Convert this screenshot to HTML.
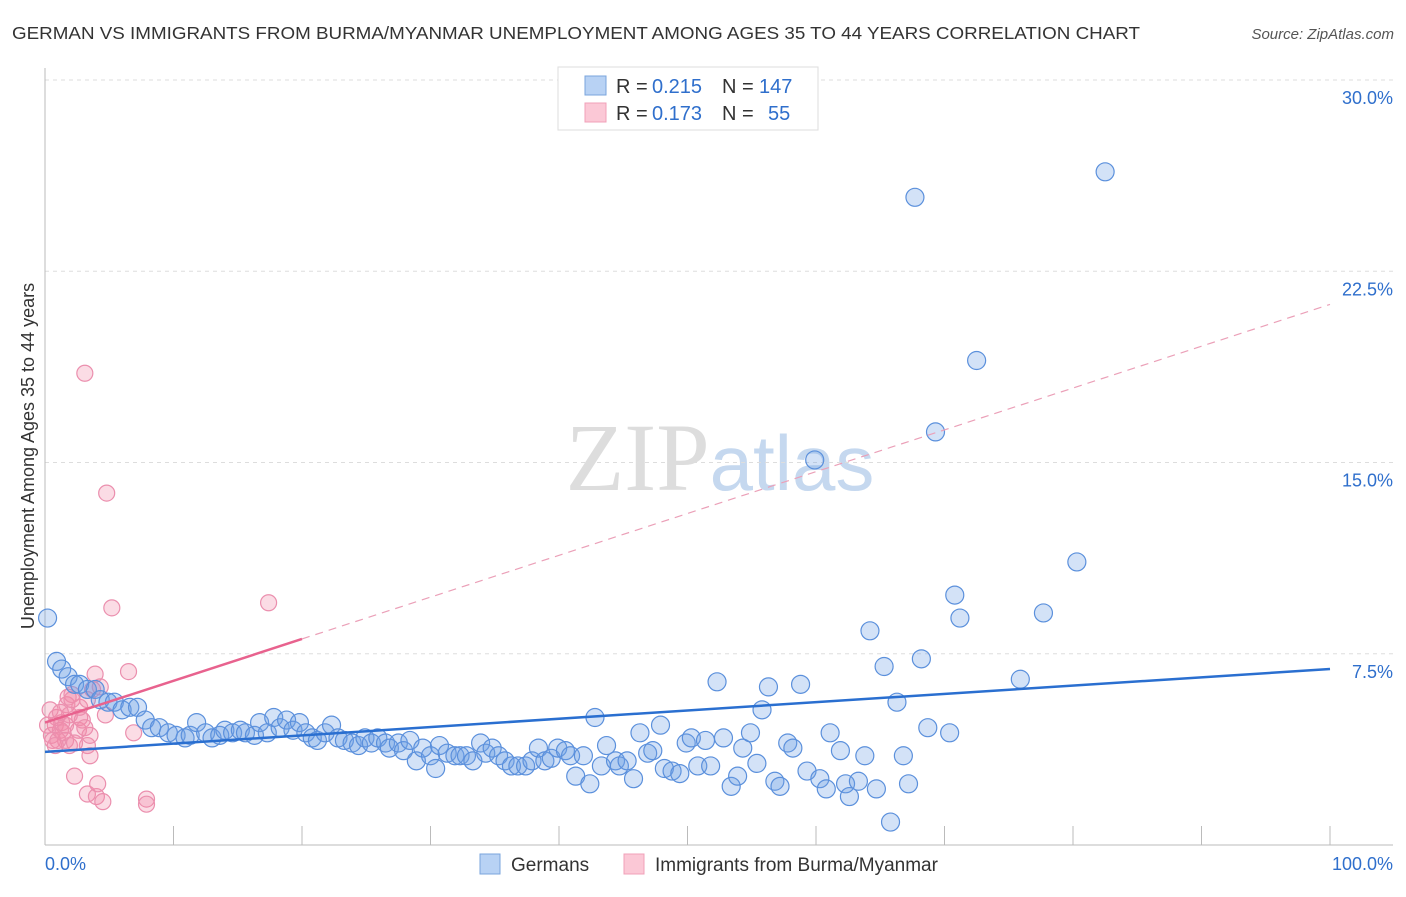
<!DOCTYPE html>
<html><head><meta charset="utf-8"><style>
body{margin:0;background:#fff;font-family:"Liberation Sans",sans-serif}
</style></head><body>
<svg id="c" width="1406" height="892" xmlns="http://www.w3.org/2000/svg" font-family="Liberation Sans, sans-serif">
<text x="12" y="39" font-size="17.5" fill="#333" textLength="1128" lengthAdjust="spacingAndGlyphs">GERMAN VS IMMIGRANTS FROM BURMA/MYANMAR UNEMPLOYMENT AMONG AGES 35 TO 44 YEARS CORRELATION CHART</text>
<text x="1394" y="39" font-size="15" fill="#555" font-style="italic" text-anchor="end">Source: ZipAtlas.com</text>
<text x="720" y="490" font-size="96" text-anchor="middle" fill="#ddd" font-family="Liberation Serif, serif">ZIP<tspan fill="#c5d8ef" font-family="Liberation Sans, sans-serif" font-size="78">atlas</tspan></text>
<g id="grid"></g><g id="axes"></g><g id="pts"></g><g id="lines"></g>
<text transform="translate(34,456) rotate(-90)" font-size="18" fill="#333" text-anchor="middle">Unemployment Among Ages 35 to 44 years</text>
<g>
<rect x="558" y="67" width="260" height="63" fill="#fff" stroke="#ddd"/>
<rect x="585" y="76" width="21" height="19" fill="#b8d2f4" stroke="#7aa4dc"/>
<rect x="585" y="103" width="21" height="19" fill="#fbc8d6" stroke="#f0a0b8"/>
<text x="616" y="93" font-size="20" fill="#333">R =</text>
<text x="652" y="93" font-size="20" fill="#2f6fcc">0.215</text>
<text x="722" y="93" font-size="20" fill="#333">N =</text>
<text x="759" y="93" font-size="20" fill="#2f6fcc">147</text>
<text x="616" y="120" font-size="20" fill="#333">R =</text>
<text x="652" y="120" font-size="20" fill="#2f6fcc">0.173</text>
<text x="722" y="120" font-size="20" fill="#333">N =</text>
<text x="768" y="120" font-size="20" fill="#2f6fcc">55</text>
</g>
<g>
<rect x="480" y="854" width="20" height="20" fill="#b8d2f4" stroke="#7aa4dc"/>
<text x="511" y="871" font-size="19" fill="#333">Germans</text>
<rect x="624" y="854" width="20" height="20" fill="#fbc8d6" stroke="#f0a0b8"/>
<text x="655" y="871" font-size="19" fill="#333">Immigrants from Burma/Myanmar</text>
</g>
</svg>
<script>
const blueX=[0.2,0.9,1.3,1.8,2.3,2.7,3.3,3.9,4.3,4.9,5.4,6.0,6.6,7.2,7.8,8.3,8.9,9.6,10.2,10.9,11.3,11.8,12.5,13.0,13.6,14.0,14.6,15.2,15.6,16.3,16.7,17.3,17.8,18.3,18.8,19.3,19.8,20.3,20.8,21.2,21.8,22.3,22.8,23.3,23.9,24.4,24.9,25.4,25.9,26.5,26.8,27.5,27.9,28.4,28.9,29.4,30.0,30.4,30.7,31.3,31.9,32.3,32.8,33.3,33.9,34.3,34.8,35.3,35.8,36.3,36.8,37.4,37.9,38.4,38.9,39.4,39.9,40.5,40.9,41.3,41.9,42.4,42.8,43.3,43.7,44.4,44.7,45.3,45.8,46.3,46.9,47.3,47.9,48.2,48.8,49.4,49.9,50.3,50.8,51.4,51.8,52.3,52.8,53.4,53.9,54.3,54.9,55.4,55.8,56.3,56.8,57.2,57.8,58.2,58.8,59.3,59.9,60.3,60.8,61.1,61.9,62.3,62.6,63.3,63.8,64.2,64.7,65.3,65.8,66.3,66.8,67.2,67.7,68.2,68.7,69.3,70.4,70.8,71.2,72.5,75.9,77.7,80.3,82.5];
const blueY=[8.9,7.2,6.9,6.6,6.3,6.3,6.1,6.1,5.7,5.6,5.6,5.3,5.4,5.4,4.9,4.6,4.6,4.4,4.3,4.2,4.3,4.8,4.4,4.2,4.3,4.5,4.4,4.5,4.4,4.3,4.8,4.4,5.0,4.6,4.9,4.5,4.8,4.4,4.2,4.1,4.4,4.7,4.2,4.1,4.0,3.9,4.2,4.0,4.2,4.0,3.8,4.0,3.7,4.1,3.3,3.8,3.5,3.0,3.9,3.6,3.5,3.5,3.5,3.3,4.0,3.6,3.8,3.5,3.3,3.1,3.1,3.1,3.3,3.8,3.3,3.4,3.8,3.7,3.5,2.7,3.5,2.4,5.0,3.1,3.9,3.3,3.1,3.3,2.6,4.4,3.6,3.7,4.7,3.0,2.9,2.8,4.0,4.2,3.1,4.1,3.1,6.4,4.2,2.3,2.7,3.8,4.4,3.2,5.3,6.2,2.5,2.3,4.0,3.8,6.3,2.9,15.1,2.6,2.2,4.4,3.7,2.4,1.9,2.5,3.5,8.4,2.2,7.0,0.9,5.6,3.5,2.4,25.4,7.3,4.6,16.2,4.4,9.8,8.9,19.0,6.5,9.1,11.1,26.4];
const pinkX=[0.4,0.5,0.8,0.9,1.2,1.3,1.6,1.7,1.8,1.9,2.1,2.3,2.6,2.7,2.9,3.1,3.3,3.3,3.5,3.7,3.9,4.0,4.1,4.3,4.5,4.7,4.8,5.2,6.5,6.9,7.9,7.9,17.4,0.2,0.6,1.0,1.4,1.6,1.9,2.3,2.7,3.1,3.5,1.2,2.1,0.8,3.3];
const pinkY=[5.3,4.3,4.7,5.0,4.5,4.8,4.1,5.5,5.8,3.9,5.9,2.7,4.5,5.0,4.9,18.5,2.0,3.9,4.3,6.1,6.7,1.9,2.4,6.2,1.7,5.1,13.8,9.3,6.8,4.4,1.8,1.6,9.5,4.7,4.1,4.1,4.4,4.7,5.1,4.0,5.4,4.6,3.5,5.2,5.7,3.9,5.7];
const yTicks=[7.5,15,22.5,30];
const yTickLabels=["7.5%","15.0%","22.5%","30.0%"];
const xTicks=[0,10,20,30,40,50,60,70,80,90,100];
const blueTrend=[3.65,6.9];
const pinkTrend=[4.8,21.2];
const pinkSolidEnd=20;
const NS="http://www.w3.org/2000/svg";
const X=v=>45+v*12.85, Y=v=>845-v*25.5;
function mk(p,t,a){const e=document.createElementNS(NS,t);for(const k in a)e.setAttribute(k,a[k]);p.appendChild(e);return e;}
const grid=document.getElementById('grid'),axes=document.getElementById('axes'),pts=document.getElementById('pts'),lines=document.getElementById('lines');
yTicks.forEach((t,i)=>{
 const l=mk(grid,'line',{x1:45,x2:1393,y1:Y(t),y2:Y(t),stroke:'#ddd','stroke-dasharray':'4,4'});
 
 
 const tx=mk(axes,'text',{x:1393,y:Y(t)+24,'font-size':18,fill:'#2f6fcc','text-anchor':'end'});tx.textContent=yTickLabels[i];
 
 
});
const ax=mk(axes,'line',{x1:45,x2:1393,y1:845,y2:845,stroke:'#bbb'});


const ay=mk(axes,'line',{x1:45,x2:45,y1:68,y2:845,stroke:'#bbb'});


xTicks.forEach(t=>{const l=mk(axes,'line',{x1:X(t),x2:X(t),y1:826,y2:845,stroke:'#bbb'});
 
 });
const x0=mk(axes,'text',{x:45,y:870,'font-size':18,fill:'#2f6fcc'});x0.textContent='0.0%';


const x1=mk(axes,'text',{x:1393,y:870,'font-size':18,fill:'#2f6fcc','text-anchor':'end'});x1.textContent='100.0%';


pinkX.forEach((v,i)=>{const c=mk(pts,'circle',{cx:X(v),cy:Y(pinkY[i]),r:8,fill:'rgba(242,140,170,0.3)',stroke:'#eb8fae','stroke-width':1.2});
 
 });
blueX.forEach((v,i)=>{const c=mk(pts,'circle',{cx:X(v),cy:Y(blueY[i]),r:9,fill:'rgba(110,160,230,0.3)',stroke:'#5b90dc','stroke-width':1.2});
 
 });
const bl=mk(lines,'line',{x1:X(0),y1:Y(blueTrend[0]),x2:X(100),y2:Y(blueTrend[1]),stroke:'#2a6fd0','stroke-width':2.5});


const pm=pinkTrend[0]+(pinkTrend[1]-pinkTrend[0])*pinkSolidEnd/100;
const ps=mk(lines,'line',{x1:X(0),y1:Y(pinkTrend[0]),x2:X(pinkSolidEnd),y2:Y(pm),stroke:'#e8628e','stroke-width':2.5});


const pd=mk(lines,'line',{x1:X(pinkSolidEnd),y1:Y(pm),x2:X(100),y2:Y(pinkTrend[1]),stroke:'#eba0b8','stroke-width':1.2,'stroke-dasharray':'8,6'});


</script>
</body></html>
